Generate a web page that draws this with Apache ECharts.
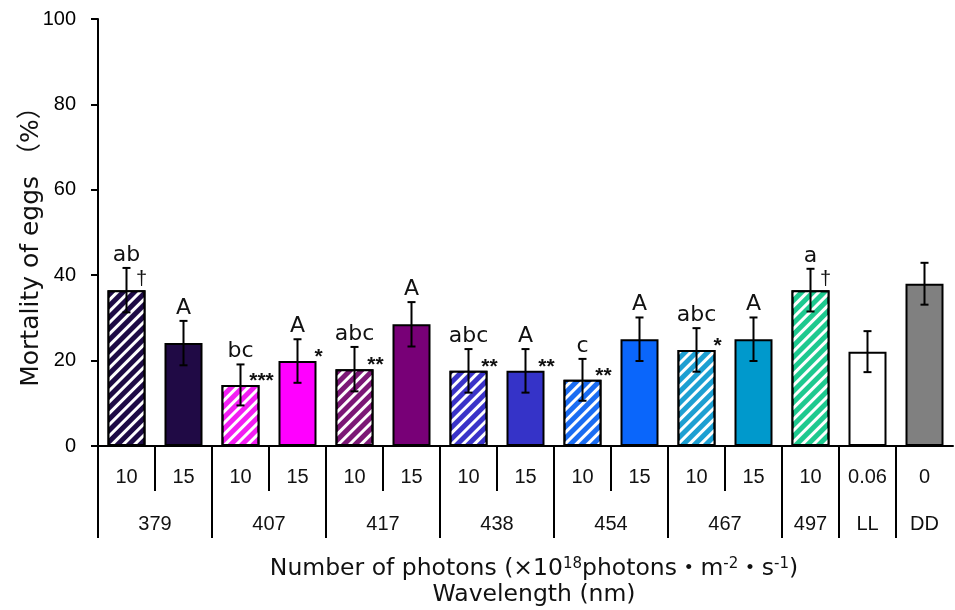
<!DOCTYPE html>
<html><head><meta charset="utf-8">
<script src="https://cdn.jsdelivr.net/npm/echarts@6/dist/echarts.min.js"></script>
<style>html,body{margin:0;padding:0;background:#fff}#c{width:955px;height:610px}</style>
</head><body><div id="c"></div>
<script>
// ---- data ----
const categories = ['379-10','379-15','407-10','407-15','417-10','417-15','438-10','438-15','454-10','454-15','467-10','467-15','497-10','LL','DD'];
const photonLabels = ['10','15','10','15','10','15','10','15','10','15','10','15','10','0.06','0'];
const mortality = [36.5, 24.1, 14.3, 19.9, 18.0, 28.5, 17.6, 17.6, 15.5, 25.0, 22.5, 25.0, 36.5, 22.1, 38.0];
const errors    = [5.2, 5.2, 4.8, 5.1, 5.2, 5.2, 5.1, 5.1, 4.9, 5.1, 5.1, 5.1, 5.0, 4.8, 4.9];
const letters   = ['ab','A','bc','A','abc','A','abc','A','c','A','abc','A','a','',''];
const sigMarks  = ['†','','***','*','**','','**','**','**','','*','','†','',''];
const hatched   = [true,false,true,false,true,false,true,false,true,false,true,false,true,false,false];
const barColors = ['#1e0b46','#200a45','#f21ef2','#ff00ff','#7c1876','#780077','#3a33c8','#3533c8','#1a6cf2','#0a66fb','#1c9fd2','#0099cc','#1ec98f','#ffffff','#808080'];
const wavelengthGroups = [
  {label:'379', start:0, end:1},
  {label:'407', start:2, end:3},
  {label:'417', start:4, end:5},
  {label:'438', start:6, end:7},
  {label:'454', start:8, end:9},
  {label:'467', start:10, end:11},
  {label:'497', start:12, end:12},
  {label:'LL', start:13, end:13},
  {label:'DD', start:14, end:14}
];
const yTicks = {min:0, max:100, interval:20};

// ---- build ----
const groupStart = categories.map((c,i)=>wavelengthGroups.some(g=>g.start===i));
const barData = mortality.map((v,i)=>{
  const st = {color:barColors[i], borderColor:'#000', borderWidth:2};
  if (hatched[i]) st.decal = {symbol:'rect', color:'#ffffff', dashArrayX:[1,0], dashArrayY:[2.6,4.6], rotation:-Math.PI/4, symbolSize:1};
  return {value:v, itemStyle:st};
});
const errData = mortality.map((v,i)=>[i, v, errors[i]]);
const FONT = "'Liberation Sans', Arial, sans-serif";
const WFONT = "'DejaVu Sans', 'Noto Sans CJK JP', sans-serif";

const chart = echarts.init(document.getElementById('c'));
chart.setOption({
  animation:false,
  grid:{left:98, right:2, top:19, bottom:164},
  xAxis:{type:'category', data:categories,
    axisLine:{lineStyle:{color:'#000', width:2}},
    axisTick:{show:false}, axisLabel:{show:false}},
  yAxis:{type:'value', min:yTicks.min, max:yTicks.max, interval:yTicks.interval,
    name:'Mortality of eggs （%）', nameLocation:'middle', nameGap:54, nameMoveOverlap:false,
    nameTextStyle:{fontSize:25, color:'#111', fontFamily:WFONT, padding:[0,16,0,0]},
    axisLine:{show:true, lineStyle:{color:'#000', width:2}},
    axisTick:{show:true, length:7, lineStyle:{color:'#000', width:2}},
    axisLabel:{fontSize:20, color:'#000', margin:22, fontFamily:FONT},
    splitLine:{show:false}},
  series:[
    {type:'bar', data:barData, barWidth:38, z:2},
    {type:'custom', z:5, data:errData, renderItem:function(params, api){
      const i = api.value(0), v = api.value(1), e = api.value(2);
      const top = api.coord([i, v+e]), bot = api.coord([i, v-e]), bar = api.coord([i, v]);
      const cap = 4;
      const ls = {stroke:'#000', lineWidth:2};
      const children = [
        {type:'line', shape:{x1:top[0], y1:top[1], x2:bot[0], y2:bot[1]}, style:ls},
        {type:'line', shape:{x1:top[0]-cap, y1:top[1], x2:top[0]+cap, y2:top[1]}, style:ls},
        {type:'line', shape:{x1:bot[0]-cap, y1:bot[1], x2:bot[0]+cap, y2:bot[1]}, style:ls}
      ];
      if (letters[i]) children.push({type:'text', style:{text:letters[i], x:top[0], y:top[1]-2, align:'center', verticalAlign:'bottom', fontSize:22, fontFamily:WFONT, fill:'#111'}});
      const m = sigMarks[i];
      if (m === '†') {
        children.push({type:'text', style:{text:m, x:bar[0]+15, y:bar[1]-11, align:'center', verticalAlign:'middle', fontSize:20, fontFamily:FONT, fill:'#111'}});
      } else if (m) {
        children.push({type:'text', style:{text:m, x:bar[0]+21, y:bar[1]-4, align:'center', verticalAlign:'middle', fontSize:21, fontWeight:'bold', fontFamily:FONT, fill:'#111'}});
      }
      return {type:'group', children:children};
    }},
    {type:'custom', z:5, data:categories.map((c,i)=>[i,0]), renderItem:function(params, api){
      const i = api.value(0);
      const p = api.coord([i, 0]);
      const bw = api.size([1,0])[0];
      const xl = p[0]-bw/2;
      const len = groupStart[i] ? 92 : 45;
      return {type:'group', children:[
        {type:'line', shape:{x1:xl, y1:p[1], x2:xl, y2:p[1]+len}, style:{stroke:'#000', lineWidth:2}},
        {type:'text', style:{text:photonLabels[i], x:p[0], y:p[1]+31, align:'center', verticalAlign:'middle', fontSize:20, fontFamily:FONT, fill:'#111'}}
      ]};
    }},
    {type:'custom', z:5, data:wavelengthGroups.map(g=>[g.start, g.end]), renderItem:function(params, api){
      const s = api.coord([api.value(0), 0]), e = api.coord([api.value(1), 0]);
      const g = wavelengthGroups[params.dataIndex];
      return {type:'text', style:{text:g.label, x:(s[0]+e[0])/2, y:s[1]+78, align:'center', verticalAlign:'middle', fontSize:20, fontFamily:FONT, fill:'#111'}};
    }}
  ],
  graphic:[
    {type:'text', style:{
      x:534, y:569, align:'center', verticalAlign:'middle',
      text:'{a|Number of photons (×10}{s|18}{a|photons・m}{s|-2}{a|・s}{s|-1}{a|)}',
      rich:{a:{fontSize:23.5, fontFamily:WFONT, fill:'#111', lineHeight:27}, s:{fontSize:15, fontFamily:WFONT, fill:'#111', padding:[0,0,9,0], lineHeight:27}}
    }},
    {type:'text', style:{x:534, y:595, align:'center', verticalAlign:'middle', text:'Wavelength (nm)', fontSize:23.5, fontFamily:WFONT, fill:'#111'}}
  ]
});
</script></body></html>
